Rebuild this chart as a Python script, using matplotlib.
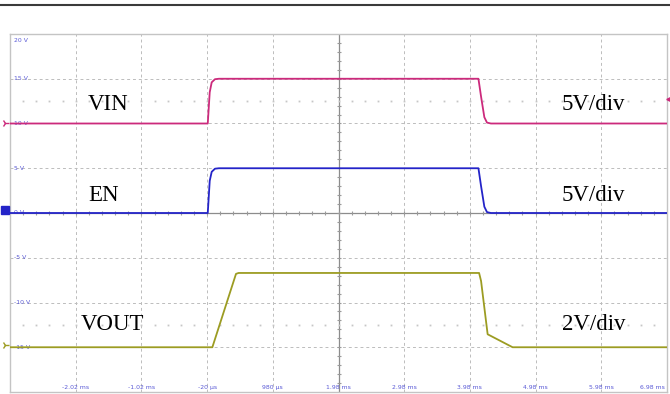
import numpy as np
import matplotlib
matplotlib.use("Agg")
import matplotlib.pyplot as plt
from matplotlib.lines import Line2D

# Screen scale: 8 vertical divisions of 5 V, 10 horizontal divisions of 1 ms
y_ticks = [20, 15, 10, 5, 0, -5, -10, -15]
y_tick_labels = ["20 V", "15 V", "10 V", "5 V", "0 V", "-5 V", "-10 V", "-15 V"]
x_ticks = [-2.02, -1.02, -0.02, 0.98, 1.98, 2.98, 3.98, 4.98, 5.98, 6.98]
x_tick_labels = ["-2.02 ms", "-1.02 ms", "-20 µs", "980 µs", "1.98 ms",
                 "2.98 ms", "3.98 ms", "4.98 ms", "5.98 ms", "6.98 ms"]

# Traces (time in ms, screen position in V)
vin_t = [-3.02, -0.01, 0.02, 0.05, 0.10, 0.16, 4.11, 4.15, 4.20, 4.24, 4.30, 6.98]
vin_v = [10.0, 10.0, 13.5, 14.6, 14.95, 15.0, 15.0, 13.0, 10.7, 10.1, 10.0, 10.0]

en_t = [-3.02, -0.01, 0.02, 0.05, 0.10, 0.16, 4.11, 4.15, 4.20, 4.24, 4.30, 6.98]
en_v = [0.0, 0.0, 3.6, 4.6, 4.95, 5.0, 5.0, 3.0, 0.7, 0.1, 0.0, 0.0]

vout_t = [-3.02, 0.06, 0.42, 0.46, 4.12, 4.15, 4.25, 4.63, 6.98]
vout_v = [-15.0, -15.0, -6.8, -6.7, -6.7, -7.6, -13.55, -15.0, -15.0]

# name, scale caption, times, values, colour, caption x (ms), caption y (V)
traces = [
    ("VIN", "5V/div", vin_t, vin_v, "#cc2a7c", -1.83, 12.1),
    ("EN", "5V/div", en_t, en_v, "#2424c8", -1.83, 2.0),
    ("VOUT", "2V/div", vout_t, vout_v, "#9c9c22", -1.95, -12.5),
]

W, H = 670, 394
fig = plt.figure(figsize=(W / 100, H / 100), dpi=100)
fig.patch.set_facecolor("white")
ax = fig.add_axes([10 / W, 2 / H, 657 / W, 358 / H])
ax.set_xlim(-3.02, 6.98)
ax.set_ylim(-20, 20)
ax.set_xticks([])
ax.set_yticks([])
for s in ax.spines.values():
    s.set_color("#c4c4c4")
    s.set_linewidth(1.0)

# Dashed graticule
grid_kw = dict(color="#bcbcbc", lw=0.7, ls=(0, (3, 3)), zorder=1)
for yv in y_ticks:
    if yv not in (0, 20):
        ax.axhline(yv, **grid_kw)
for xv in x_ticks:
    if abs(xv - 1.98) > 1e-6:
        ax.axvline(xv, **grid_kw)

# Centre axes with minor ticks
ax.axvline(1.98, color="#8c8c8c", lw=0.9, zorder=1)
ax.axhline(0, color="#8c8c8c", lw=0.9, zorder=1)
ax.plot(np.full(39, 1.98), np.arange(-19, 20, 1.0), ls="none",
        marker="_", ms=3.5, mew=0.8, color="#9a9a9a", zorder=1)
ax.plot(np.arange(-2.82, 6.98, 0.2), np.zeros(49), ls="none",
        marker="|", ms=3.5, mew=0.8, color="#9a9a9a", zorder=1)

# Sparse dotted rows behind the channel captions
for yv in (12.5, -12.5):
    ax.plot(np.arange(-2.82, 6.9, 0.2), np.full(49, yv), ls="none",
            marker="s", ms=1.3, mew=0, color="#c6c6c6", zorder=1)

# Tick labels drawn inside the screen
lab_kw = dict(fontsize=4.4, color="#5a5ad6", family="DejaVu Sans")
for yv, lab in zip(y_ticks, y_tick_labels):
    va = "top" if yv == 20 else "center"
    yy = 19.6 if yv == 20 else yv
    ax.text(-2.96, yy, lab, ha="left", va=va, zorder=3, **lab_kw)
for xv, lab in zip(x_ticks, x_tick_labels):
    ha = "right" if xv == x_ticks[-1] else "center"
    xx = 6.95 if xv == x_ticks[-1] else xv
    ax.text(xx, -19.5, lab, ha=ha, va="center", zorder=3, **lab_kw)

# Waveforms and captions
for name, scale, t, v, col, xcap, ycap in traces:
    ax.plot(t, v, color=col, lw=1.3, zorder=4, solid_joinstyle="round")
    ax.text(xcap, ycap, name, fontsize=16.5, family="Liberation Serif",
            ha="left", va="center", zorder=5)
    ax.text(5.38, ycap, scale, fontsize=16.5, family="Liberation Serif",
            ha="left", va="center", zorder=5)

# Channel markers at the screen edges
ax.plot([-3.09], [10.0], marker="4", ms=6, color="#cc2a7c", clip_on=False, zorder=6)
ax.plot([-3.1], [0.3], marker="s", ms=6, color="#2424c8", clip_on=False, zorder=6)
ax.plot([-3.09], [-14.7], marker="4", ms=6, color="#9c9c22", clip_on=False, zorder=6)
ax.plot([6.99], [12.7], marker="<", ms=2.5, color="#cc2a7c", clip_on=False, zorder=6)

# Rule across the top of the image
fig.add_artist(Line2D([0, 1], [1 - 5 / H, 1 - 5 / H], color="#3a3a3a", lw=1.5))

fig.savefig("out.png", dpi=100)
